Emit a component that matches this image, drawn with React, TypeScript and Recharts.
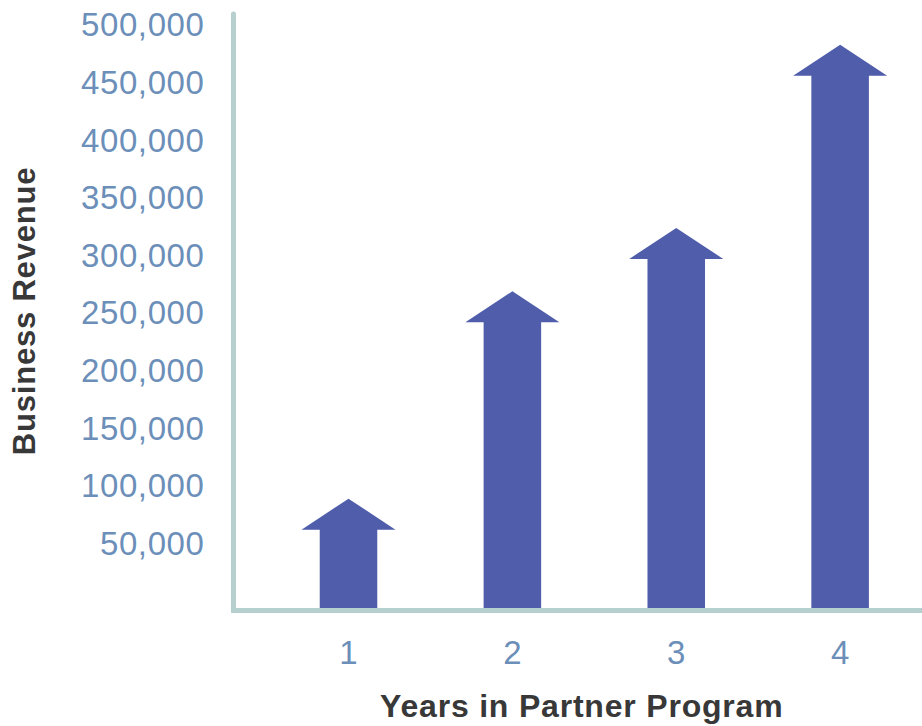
import React from "react";
import { BarChart, Bar, XAxis, YAxis, Label } from "recharts";

const years = ["1", "2", "3", "4"];
const revenue = [68000, 248000, 303000, 462000];
const yTicks = [50000, 100000, 150000, 200000, 250000, 300000, 350000, 400000, 450000, 500000];
const AXIS_MAX = 515600;

const data = years.map((year, i) => ({ year, revenue: revenue[i] }));

const BAR_COLOR = "#4F5DAB";
const AXIS_COLOR = "#B6CFCF";
const TICK_COLOR = "#6C8FB9";
const TITLE_COLOR = "#383838";
const HEAD_H = 31;
const FONT = "Liberation Sans, Arial, sans-serif";

function ArrowBar(props: any) {
  const { x, y, width, height } = props;
  const cx = x + width / 2;
  const shaft = width * 0.612;
  const bottom = y + height;
  const d = [
    `M${cx},${y - HEAD_H}`,
    `L${x + width},${y}`,
    `L${cx + shaft / 2},${y}`,
    `L${cx + shaft / 2},${bottom}`,
    `L${cx - shaft / 2},${bottom}`,
    `L${cx - shaft / 2},${y}`,
    `L${x},${y}`,
    "Z",
  ].join(" ");
  return <path d={d} fill={BAR_COLOR} />;
}

function YTick({ x, y, payload }: any) {
  return (
    <text x={x} y={y - 7} textAnchor="end" dominantBaseline="central" fill={TICK_COLOR} fontSize={33} letterSpacing={0.6} fontFamily={FONT}>
      {payload.value.toLocaleString("en-US")}
    </text>
  );
}

function XTick({ x, y, payload }: any) {
  return (
    <text x={x} y={y + 44} textAnchor="middle" dominantBaseline="central" fill={TICK_COLOR} fontSize={33} fontFamily={FONT}>
      {payload.value}
    </text>
  );
}

export default function App() {
  return (
    <div style={{ position: "absolute", left: 0, top: 0, width: 922, height: 726, background: "#fff" }}>
      <BarChart width={922} height={726} data={data} margin={{ top: 14, right: 0, bottom: 0, left: 0 }}>
        <XAxis
          dataKey="year"
          height={118}
          padding={{ left: 33, right: 0 }}
          tickLine={false}
          tickSize={0}
          tickMargin={0}
          tick={<XTick />}
          axisLine={{ stroke: AXIS_COLOR, strokeWidth: 5, strokeLinecap: "square", transform: "translate(0, 2.5)" }}
        >
          <Label
            content={({ viewBox }: any) => (
              <text
                x={viewBox.x + viewBox.width / 2 + 4}
                y={706}
                textAnchor="middle"
                dominantBaseline="central"
                fill={TITLE_COLOR}
                fontSize={32}
                fontWeight="bold"
                letterSpacing={0.8}
                fontFamily={FONT}
              >
                Years in Partner Program
              </text>
            )}
          />
        </XAxis>
        <YAxis
          width={233.5}
          domain={[0, AXIS_MAX]}
          ticks={yTicks}
          tickLine={false}
          tickSize={0}
          tickMargin={29}
          tick={<YTick />}
          axisLine={{ stroke: AXIS_COLOR, strokeWidth: 5, strokeLinecap: "round" }}
        >
          <Label
            content={({ viewBox }: any) => {
              const cy = viewBox.y + viewBox.height / 2;
              return (
                <text
                  x={24}
                  y={cy}
                  transform={`rotate(-90, 24, ${cy})`}
                  textAnchor="middle"
                  dominantBaseline="central"
                  fill={TITLE_COLOR}
                  fontSize={31}
                  fontWeight="bold"
                  letterSpacing={0.8}
                  fontFamily={FONT}
                >
                  Business Revenue
                </text>
              );
            }}
          />
        </YAxis>
        <Bar dataKey="revenue" barSize={94} shape={<ArrowBar />} isAnimationActive={false} />
      </BarChart>
    </div>
  );
}
